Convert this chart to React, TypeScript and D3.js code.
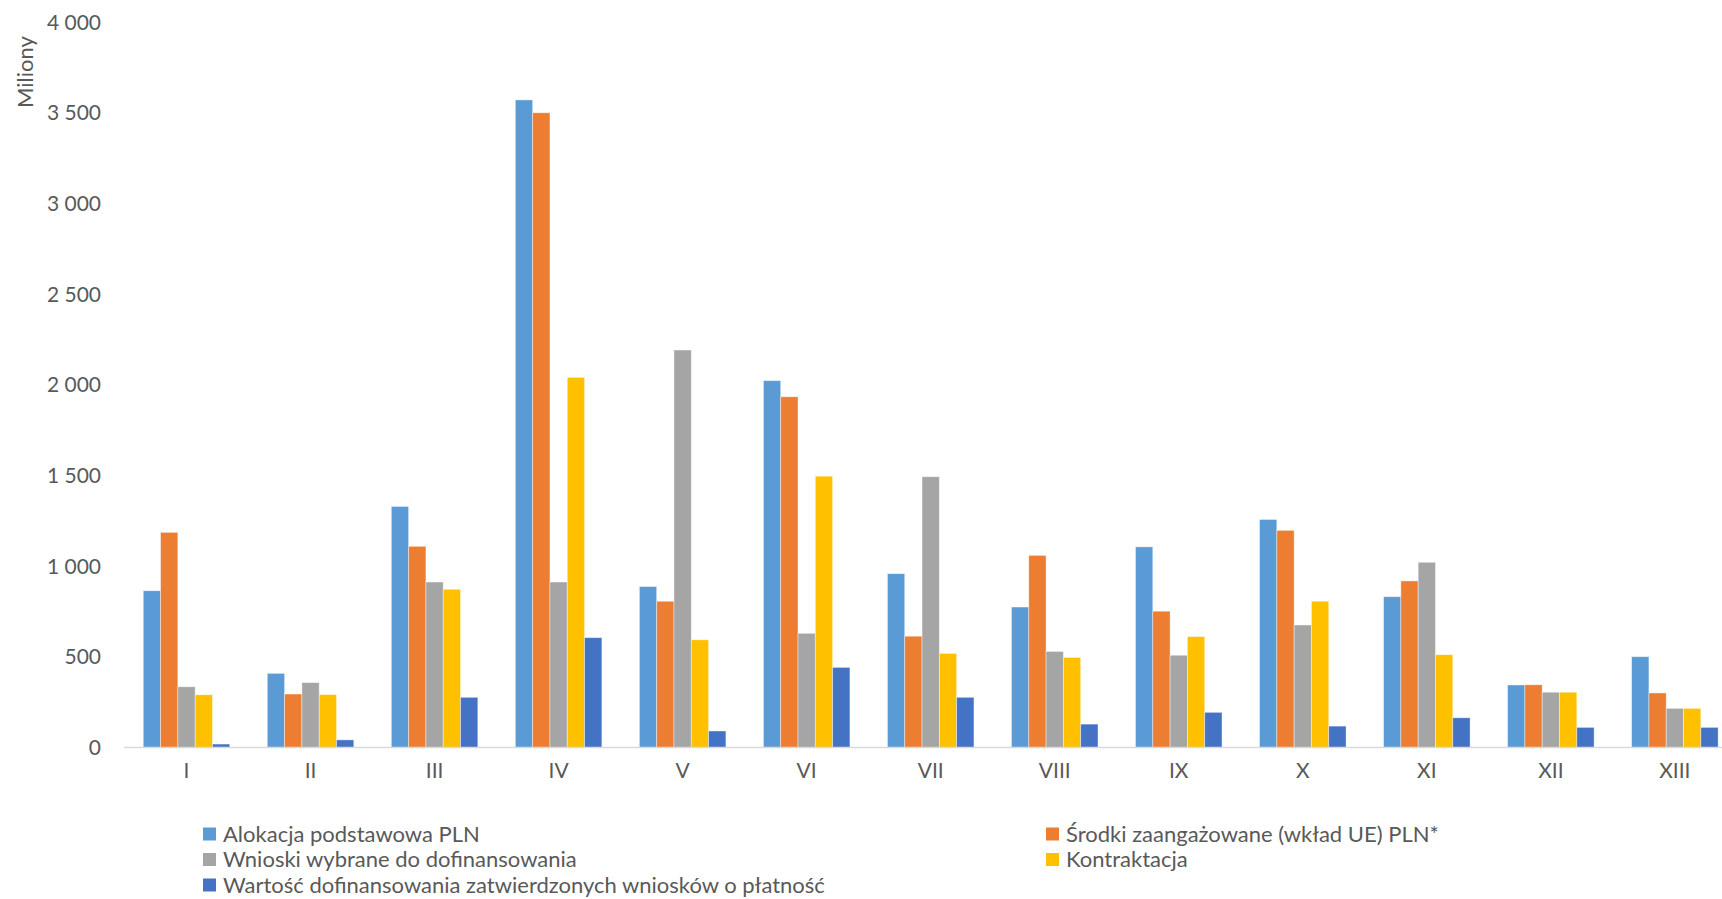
import React from "react";
import * as d3 from "d3";

const categories = ["I", "II", "III", "IV", "V", "VI", "VII", "VIII", "IX", "X", "XI", "XII", "XIII"];
const seriesNames = [
  "Alokacja podstawowa PLN",
  "Środki zaangażowane (wkład UE) PLN*",
  "Wnioski wybrane do dofinansowania",
  "Kontraktacja",
  "Wartość dofinansowania zatwierdzonych wniosków o płatność",
];
const alokacja = [865, 409, 1330, 3573, 888, 2024, 959, 775, 1107, 1258, 832, 345, 501];
const srodki = [1187, 295, 1110, 3502, 807, 1935, 614, 1060, 752, 1198, 919, 346, 301];
const wnioski = [335, 358, 913, 913, 2193, 630, 1494, 530, 509, 676, 1022, 305, 216];
const kontraktacja = [291, 292, 873, 2042, 594, 1497, 519, 497, 612, 807, 512, 305, 216];
const platnosci = [19, 42, 277, 606, 91, 442, 277, 129, 194, 118, 164, 111, 111];
const yTicks = [0, 500, 1000, 1500, 2000, 2500, 3000, 3500, 4000];
const colors = ["#5B9BD5", "#ED7D31", "#A5A5A5", "#FFC000", "#4472C4"];

const seriesValues = [alokacja, srodki, wnioski, kontraktacja, platnosci];

const W = 1722;
const H = 899;
const FONT = "Lato, 'Open Sans', sans-serif";
const TEXT = "#595959";

export default function App() {
  const step = 124.03;
  const x0 = 124.5;
  const x = d3
    .scaleBand<string>()
    .domain(categories)
    .range([x0, x0 + step * categories.length])
    .paddingInner(0.3024)
    .paddingOuter(0.1512);
  const xs = d3
    .scaleBand<number>()
    .domain(d3.range(seriesNames.length))
    .range([0, x.bandwidth()]);
  const y = d3.scaleLinear().domain([0, 4000]).range([747.5, 22.5]);
  const fmt = d3.formatLocale({ decimal: ",", thousands: "\u00a0", grouping: [3], currency: ["", ""] }).format(",d");

  const legendPos = [
    { lx: 203, ly: 834 },
    { lx: 1046, ly: 834 },
    { lx: 203, ly: 859.5 },
    { lx: 1046, ly: 859.5 },
    { lx: 203, ly: 885 },
  ];

  return (
    <svg
      width={W}
      height={H}
      style={{ position: "absolute", left: 0, top: 0, background: "#fff", fontFamily: FONT }}
    >
      <rect x={0} y={0} width={W} height={H} fill="#fff" />
      {yTicks.map((t) => (
        <text key={t} x={101} y={y(t)} dy="0.35em" textAnchor="end" fontSize={21} fill={TEXT}>
          {fmt(t)}
        </text>
      ))}
      <text
        transform={`translate(25,72) rotate(-90)`}
        textAnchor="middle"
        dy="0.35em"
        fontSize={22}
        fill={TEXT}
      >
        Miliony
      </text>
      {categories.map((c, ci) => (
        <g key={c} transform={`translate(${x(c)},0)`}>
          {seriesValues.map((vals, si) => (
            <rect
              key={si}
              x={xs(si)}
              y={y(vals[ci])}
              width={xs.bandwidth()}
              height={y(0) - y(vals[ci])}
              fill={colors[si]}
              stroke="#fff"
              strokeOpacity={0.5}
              strokeWidth={0.8}
            />
          ))}
        </g>
      ))}
      <line x1={124} x2={W} y1={y(0)} y2={y(0)} stroke="#D9D9D9" strokeWidth={1.5} />
      {categories.map((c) => (
        <text
          key={c}
          x={(x(c) as number) + x.bandwidth() / 2}
          y={771}
          dy="0.35em"
          textAnchor="middle"
          fontSize={21}
          fill={TEXT}
        >
          {c}
        </text>
      ))}
      {seriesNames.map((n, i) => (
        <g key={n} transform={`translate(${legendPos[i].lx},${legendPos[i].ly})`}>
          <rect x={0} y={-6.5} width={13} height={13} fill={colors[i]} />
          <text x={20} y={0} dy="0.35em" fontSize={22} fill={TEXT}>
            {n}
          </text>
        </g>
      ))}
    </svg>
  );
}
